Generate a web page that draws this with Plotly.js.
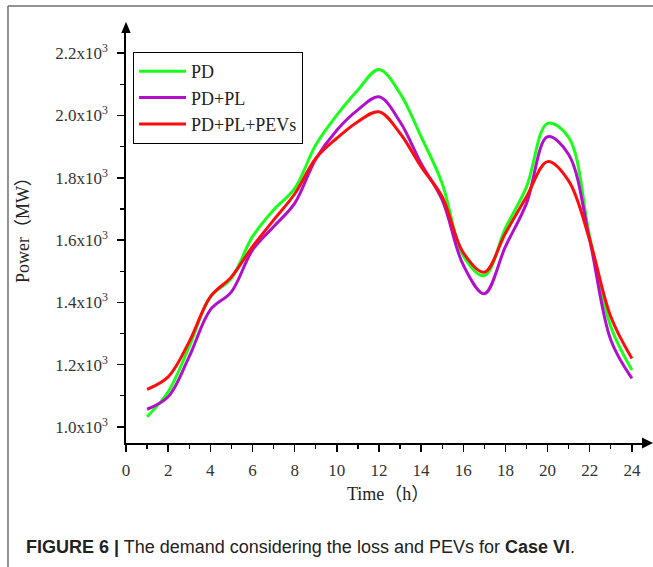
<!DOCTYPE html>
<html>
<head>
<meta charset="utf-8">
<script src="https://cdn.plot.ly/plotly-3.0.1.min.js"></script>
<style>
html,body{margin:0;padding:0;background:#fff;}
#chart{width:653px;height:567px;}
</style>
</head>
<body>
<div id="chart"></div>
<script>
// ---- data ----
const hours = [1,2,3,4,5,6,7,8,9,10,11,12,13,14,15,16,17,18,19,20,21,22,23,24];
const seriesNames = ["PD", "PD+PL", "PD+PL+PEVs"];
const pd        = [1033,1113,1258,1418,1477,1611,1697,1765,1905,2001,2082,2148,2071,1932,1782,1550,1486,1638,1771,1975,1930,1611,1322,1183];
const pdPl      = [1057,1097,1226,1376,1434,1568,1643,1718,1860,1953,2018,2060,1980,1846,1729,1520,1428,1579,1718,1932,1875,1600,1279,1156];
const pdPlPevs  = [1121,1161,1274,1418,1482,1579,1664,1748,1862,1927,1980,2012,1943,1836,1739,1560,1497,1622,1739,1852,1790,1600,1354,1220];
const xTickVals = [0,2,4,6,8,10,12,14,16,18,20,22,24];
const yTickVals = [1000,1200,1400,1600,1800,2000,2200];
const yTickText = ["1.0x10<sup>3</sup>","1.2x10<sup>3</sup>","1.4x10<sup>3</sup>","1.6x10<sup>3</sup>","1.8x10<sup>3</sup>","2.0x10<sup>3</sup>","2.2x10<sup>3</sup>"];
const xTitle = "Time（h）";
const yTitle = "Power（MW）";
const caption = "<b>FIGURE 6 |</b> The demand considering the loss and PEVs for <b>Case VI</b>.";

const colors = ["#1aff1a", "#b20fcc", "#ff0d0d"];
const serif = "'Liberation Serif', 'Noto Sans CJK SC', serif";

const allY = [pd, pdPl, pdPlPevs];
const traces = allY.map((ys, i) => ({
  x: hours, y: ys, name: seriesNames[i], type: "scatter", mode: "lines",
  line: {color: colors[i], width: 3, shape: "spline", smoothing: 1}
}));

const layout = {
  width: 653, height: 567,
  margin: {l: 126, r: 11, t: 33, b: 124},
  paper_bgcolor: "#fff", plot_bgcolor: "#fff",
  showlegend: true,
  legend: {
    x: 0.0136, y: 0.9537, xanchor: "left", yanchor: "top",
    bordercolor: "#000", borderwidth: 1, bgcolor: "#fff",
    font: {family: serif, size: 18, color: "#222"},
    itemwidth: 47, tracegroupgap: 0
  },
  xaxis: {
    range: [0, 24.48], showgrid: false, zeroline: false,
    showline: true, linecolor: "#000", linewidth: 1.6,
    ticks: "outside", ticklen: 7, tickwidth: 1.5, tickcolor: "#000",
    tickvals: xTickVals, ticklabelstandoff: 4,
    tickfont: {family: serif, size: 17, color: "#333"},
    minor: {dtick: 1, tick0: 0, ticks: "outside", ticklen: 4, tickwidth: 1.3, tickcolor: "#000", showgrid: false}
  },
  yaxis: {
    range: [948.6, 2264.9], showgrid: false, zeroline: false,
    showline: true, linecolor: "#000", linewidth: 1.6,
    ticks: "outside", ticklen: 7, tickwidth: 1.5, tickcolor: "#000",
    tickvals: yTickVals, ticktext: yTickText, ticklabelstandoff: 6,
    tickfont: {family: serif, size: 17, color: "#333"},
    minor: {dtick: 100, tick0: 1000, ticks: "outside", ticklen: 4, tickwidth: 1.3, tickcolor: "#000", showgrid: false}
  },
  shapes: [
    {type: "path", xref: "paper", yref: "paper", path: "M 1,0.0134 L 1.0213,0 L 1,-0.0134 Z", fillcolor: "#000", line: {width: 0}},
    {type: "path", xref: "paper", yref: "paper", path: "M -0.0091,1 L 0,1.0276 L 0.0091,1 Z", fillcolor: "#000", line: {width: 0}},
    {type: "line", xref: "paper", yref: "paper", x0: -0.2287, x1: -0.2287, y0: 1.0659, y1: -0.35, line: {color: "#6e6e6e", width: 1.5}},
    {type: "line", xref: "paper", yref: "paper", x0: -0.2287, x1: 1.05, y0: 1.0659, y1: 1.0659, line: {color: "#6e6e6e", width: 1.5}}
  ],
  annotations: [
    {text: yTitle, xref: "paper", yref: "paper", x: -0.1996, y: 0.529, xanchor: "center", yanchor: "middle", textangle: -90, showarrow: false, font: {family: serif, size: 18, color: "#222"}},
    {text: xTitle, xref: "paper", yref: "paper", x: 0.5078, y: -0.1244, xanchor: "center", yanchor: "middle", showarrow: false, font: {family: serif, size: 18, color: "#222"}},
    {text: caption, xref: "paper", yref: "paper", x: -0.1977, y: -0.2537, xanchor: "left", yanchor: "middle", showarrow: false, font: {family: "'Liberation Sans', Arial, sans-serif", size: 18, color: "#222"}}
  ]
};

Plotly.newPlot("chart", traces, layout, {staticPlot: true, displayModeBar: false});
</script>
</body>
</html>
